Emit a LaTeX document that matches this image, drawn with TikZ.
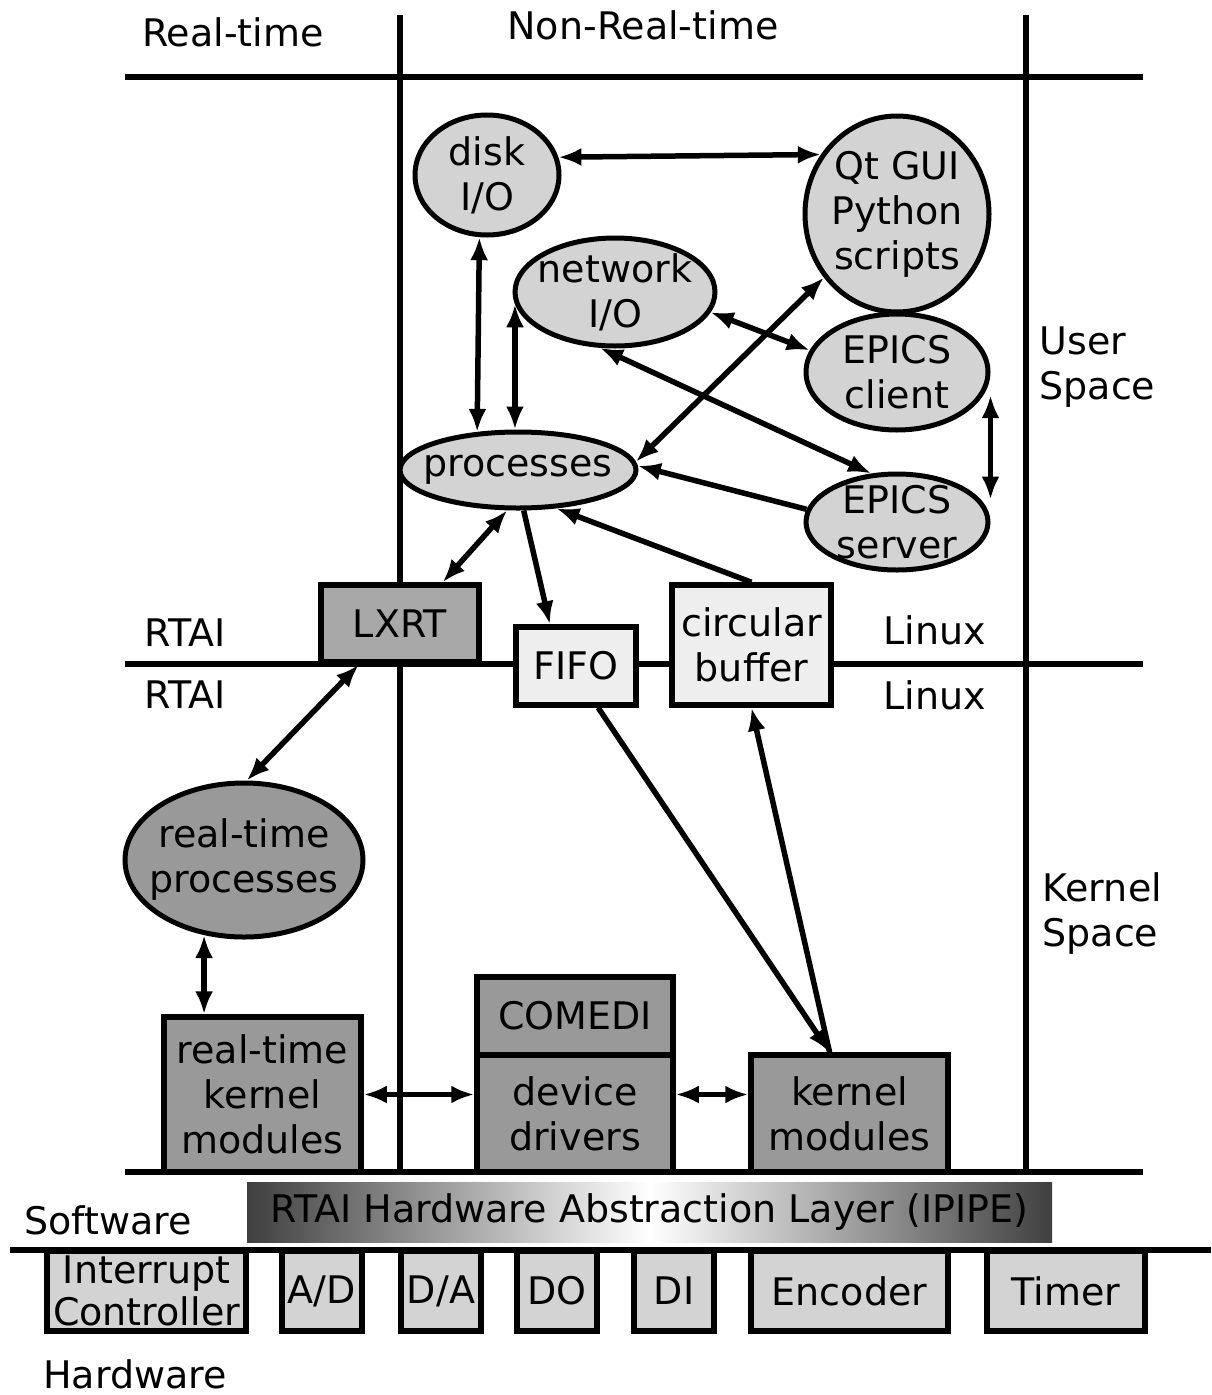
\documentclass[tikz,border=0pt]{standalone}
\usepackage{fontspec}
\setmainfont{DejaVu Sans}
\usetikzlibrary{shapes.geometric, arrows.meta}

\definecolor{bubblegray}{HTML}{D3D3D3}
\definecolor{boxgray}{HTML}{999999}
\definecolor{lxrtgray}{HTML}{A8A8A8}
\definecolor{palegray}{HTML}{EEEEEE}

\begin{document}
\begin{tikzpicture}[x=1pt, y=-1pt, font=\fontsize{38pt}{45pt}\selectfont,
	frame/.style={line width=6.5pt},
	bubble/.style={ellipse, draw, line width=5pt, fill=bubblegray, inner sep=0pt},
	block/.style={rectangle, draw, line width=5.5pt, inner sep=0pt, align=center},
	hwbox/.style={block, fill=bubblegray, minimum height=80pt},
	twoway/.style={line width=5.5pt, {Latex[length=23pt,width=18pt]}-{Latex[length=23pt,width=18pt]}},
	oneway/.style={line width=5.5pt, -{Latex[length=23pt,width=18pt]}}]

	\useasboundingbox (0,0) rectangle (1211,1395);

	% frame
	\draw[frame] (125,77) -- (1143,77);
	\draw[frame] (125,664) -- (1143,664);
	\draw[frame] (125,1172) -- (1143,1172);
	\draw[frame] (10,1250) -- (1211,1250);
	\draw[frame] (400,15) -- (400,1172);
	\draw[frame] (1026,15) -- (1026,1172);

	\node (realtime) at (233,32) {Real-time};
	\node (nonrealtime) at (643,25) {Non-Real-time};
	\node[align=left, anchor=west] (userspace) at (1036,367) {User\\Space};
	\node[align=left, anchor=west] (kernelspace) at (1039,914) {Kernel\\Space};
	\node (rtaiup) at (185,633) {RTAI};
	\node (rtaidown) at (185,695) {RTAI};
	\node (linuxup) at (935,630) {Linux};
	\node (linuxdown) at (935,695) {Linux};
	\node (software) at (108,1220) {Software};
	\node[anchor=base, inner sep=1pt] (hardware) at (135,1388) {Hardware};

	% user space
	\node[bubble, minimum width=144pt, minimum height=120pt, label={[align=center]center:disk\\I/O}] (disk) at (487,175) {};
	\node[bubble, minimum width=184pt, minimum height=196pt, label={[align=center]center:Qt GUI\\Python\\scripts}] (qt) at (897,214) {};
	\node[bubble, minimum width=200pt, minimum height=108pt, label={[align=center]center:network\\I/O}] (network) at (615,292) {};
	\node[bubble, minimum width=182pt, minimum height=116pt, label={[align=center]center:EPICS\\client}] (client) at (897,372) {};
	\node[bubble, minimum width=182pt, minimum height=96pt, label={[align=center]center:EPICS\\server}] (server) at (897,522) {};
	\node[bubble, minimum width=236pt, minimum height=76pt, label={center:processes}] (proc) at (518,470) {};

	\node[block, fill=lxrtgray, minimum width=158pt, minimum height=77pt] (lxrt) at (400,623.5) {LXRT};
	\node[block, fill=palegray, minimum width=120pt, minimum height=78pt] (fifo) at (576,666) {FIFO};
	\node[block, fill=palegray, minimum width=159pt, minimum height=120pt] (circbuf) at (751.5,645) {circular\\buffer};

	% kernel space
	\node[bubble, fill=boxgray, minimum width=238pt, minimum height=154pt, label={[align=center]center:real-time\\processes}] (rtproc) at (244,860) {};
	\node[block, fill=boxgray, minimum width=197pt, minimum height=155pt] (rtkm) at (262.5,1094.5) {real-time\\kernel\\modules};
	\node[block, fill=boxgray, minimum width=196pt, minimum height=78pt] (comedi) at (575,1016) {COMEDI};
	\node[block, fill=boxgray, minimum width=196pt, minimum height=117pt] (drivers) at (575,1113.5) {device\\drivers};
	\node[block, fill=boxgray, minimum width=197pt, minimum height=117pt] (km) at (849.5,1113.5) {kernel\\modules};

	\node[left color=black!75, right color=black!75, middle color=white, minimum width=805pt, minimum height=60pt, inner sep=0pt] (hal) at (649.5,1212) {RTAI Hardware Abstraction Layer (IPIPE)};

	% hardware
	\node[hwbox, minimum width=199pt] (intctl) at (146.5,1291) {Interrupt\\[-3pt]Controller};
	\node[hwbox, minimum width=80pt] (ad) at (322,1291) {A/D};
	\node[hwbox, minimum width=80pt] (da) at (441,1291) {D/A};
	\node[hwbox, minimum width=80pt] (do) at (557,1291) {DO};
	\node[hwbox, minimum width=80pt] (di) at (674,1291) {DI};
	\node[hwbox, minimum width=197pt] (encoder) at (849.5,1291) {Encoder};
	\node[hwbox, minimum width=158pt] (timer) at (1066,1291) {Timer};

	% connections
	\draw[twoway] (disk.14.7) -- (qt.142.5);
	\draw[twoway] (disk.263.3) -- (proc.137.4);
	\draw[twoway] (network.187.6) -- (network.187.6 |- proc.north);
	\draw[twoway] (network.-12.5) -- (client.166);
	\draw[twoway] (network.255) -- (server.118);
	\draw[twoway] (proc.4) -- (qt.221.6);
	\draw[oneway] (server.172.5) -- (proc.2);
	\draw[twoway] (client.-15 -| client.east) -- (server.15 -| server.east);
	\draw[oneway] (circbuf.north) -- (proc.-45);
	\draw[twoway] (proc.255) -- (lxrt.44);
	\draw[oneway] (proc.278) -- (fifo.122);
	\draw[twoway] (lxrt.225) -- (rtproc.88);
	\draw[twoway] (rtproc.242) -- (rtproc.242 |- rtkm.north);
	\draw[twoway] (rtkm.east) -- (rtkm.east -| drivers.west);
	\draw[twoway] (drivers.east |- rtkm.east) -- (km.west |- rtkm.east);
	\draw[oneway] (fifo.-62) -- (km.108);
	\draw[oneway] (km.108) -- (circbuf.south);
\end{tikzpicture}
\end{document}
